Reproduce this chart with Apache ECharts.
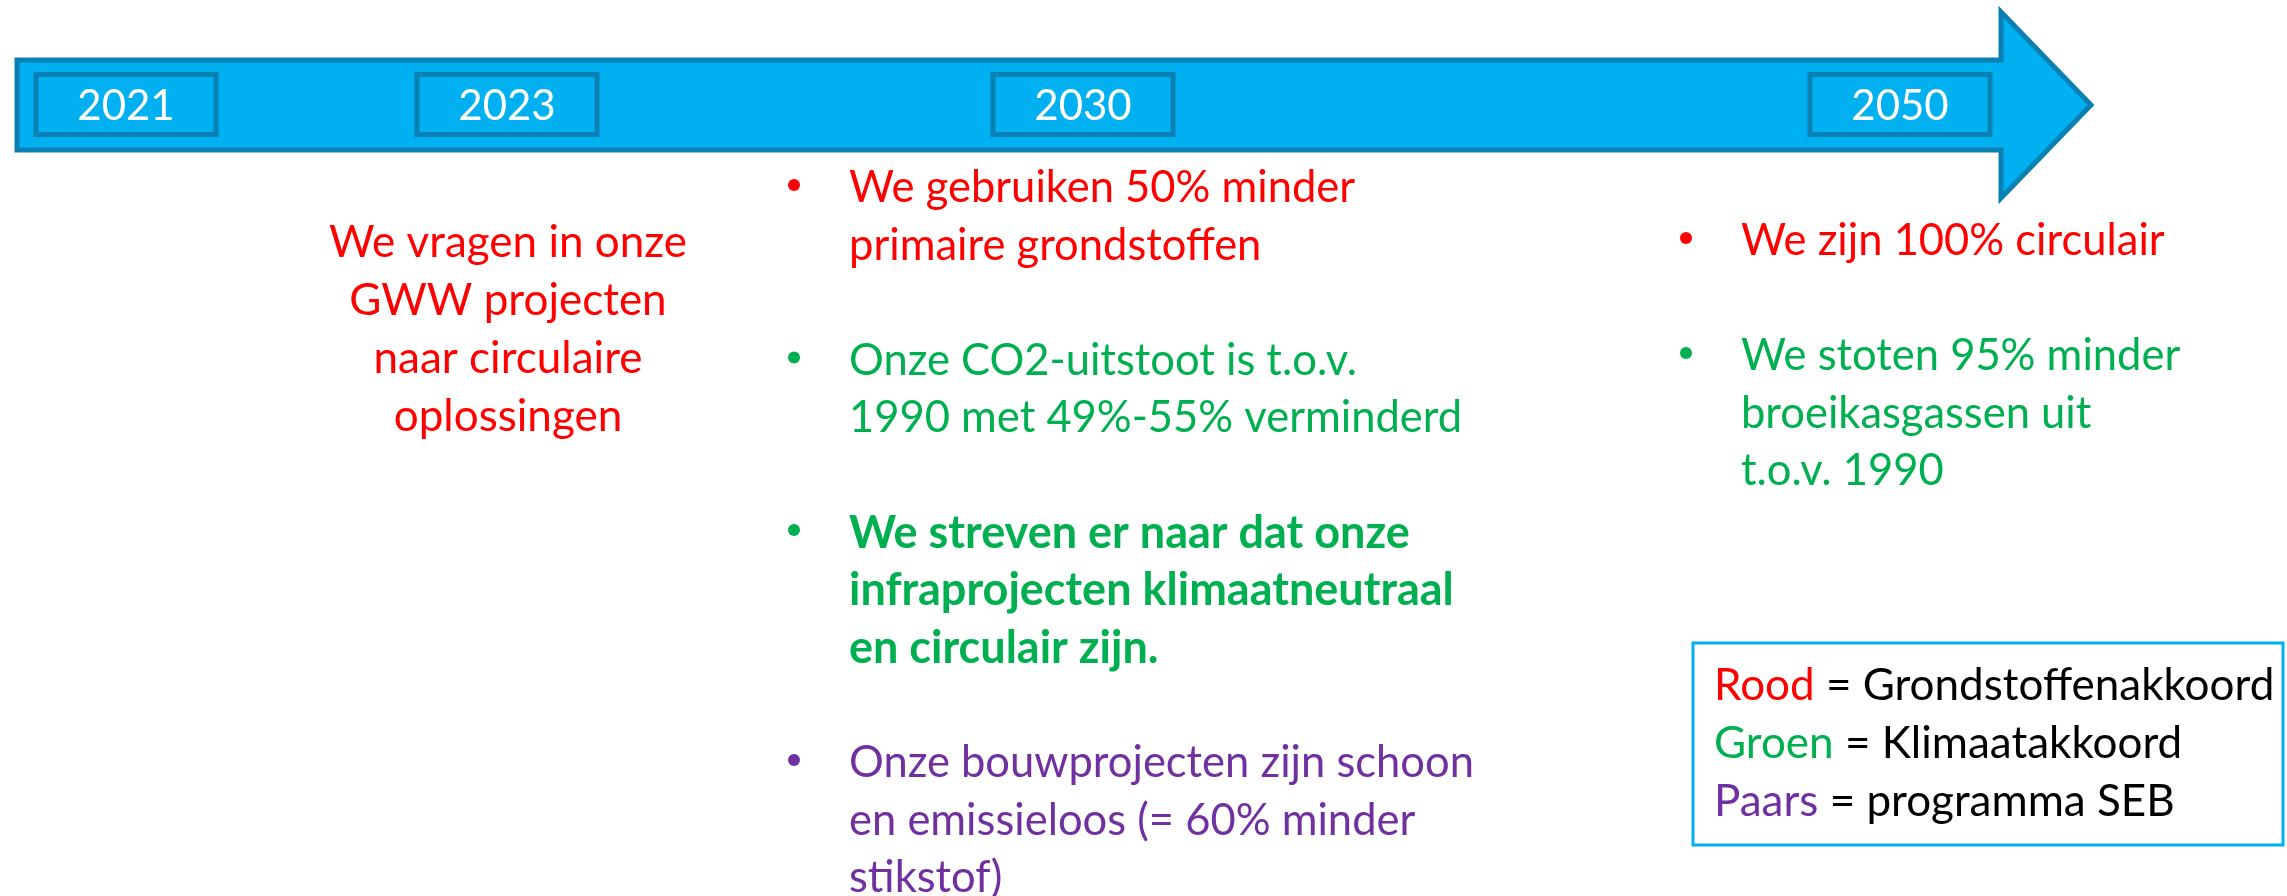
<!DOCTYPE html>
<html>
<head>
<meta charset="utf-8">
<title>Tijdlijn</title>
<script src="https://cdn.jsdelivr.net/npm/echarts@6/dist/echarts.min.js"></script>
<style>
  html, body { margin: 0; padding: 0; background: #fff; }
  #chart { width: 2287px; height: 896px; }
</style>
</head>
<body>
<div id="chart"></div>
<script>
// --- data ---
var years = ['2021', '2023', '2030', '2050'];

var note2023 = ['We vragen in onze', 'GWW projecten', 'naar circulaire', 'oplossingen'];

var goals2030 = [
    ['We gebruiken 50% minder', 'primaire grondstoffen'],
    ['Onze CO2-uitstoot is t.o.v.', '1990 met 49%-55% verminderd'],
    ['We streven er naar dat onze', 'infraprojecten klimaatneutraal', 'en circulair zijn.'],
    ['Onze bouwprojecten zijn schoon', 'en emissieloos (= 60% minder', 'stikstof)']
];
var goals2030Accord = ['Rood', 'Groen', 'Groen', 'Paars'];
var goals2030Bold = [false, false, true, false];

var goals2050 = [
    ['We zijn 100% circulair'],
    ['We stoten 95% minder', 'broeikasgassen uit', 't.o.v. 1990']
];
var goals2050Accord = ['Rood', 'Groen'];

var legendKeys = ['Rood', 'Groen', 'Paars'];
var legendLabels = ['Grondstoffenakkoord', 'Klimaatakkoord', 'programma SEB'];

// --- layout / styles ---
var FONT = 'Lato, "Open Sans", sans-serif';
var SIZE = '43.5px ';
var accordColor = { Rood: '#ff0000', Groen: '#00b050', Paars: '#7030a0' };
var arrowFill = '#00b0f0';
var arrowEdge = '#0b80b4';
var yearBoxX = [36, 417, 993, 1810];   // left edges of the year boxes
var lineH = 57.5;

var myChart = echarts.init(document.getElementById('chart'));
var g = [];

// arrow
g.push({
    type: 'polygon',
    shape: {
        points: [[17, 60], [2001, 60], [2001, 12], [2091, 105], [2001, 198], [2001, 150], [17, 150]]
    },
    style: { fill: arrowFill, stroke: arrowEdge, lineWidth: 5, lineJoin: 'miter' }
});

// year boxes
for (var i = 0; i < years.length; i++) {
    g.push({
        type: 'rect',
        shape: { x: yearBoxX[i], y: 74.5, width: 180, height: 60 },
        style: { fill: arrowFill, stroke: arrowEdge, lineWidth: 5 }
    });
    g.push({
        type: 'text',
        x: yearBoxX[i] + 90, y: 106,
        style: {
            text: years[i], fill: '#fff', font: '42px ' + FONT,
            align: 'center', verticalAlign: 'middle'
        }
    });
}

// 2023 note, centred
for (var j = 0; j < note2023.length; j++) {
    g.push({
        type: 'text',
        x: 508, y: 243 + j * 58,
        style: {
            text: note2023[j], fill: accordColor.Rood, font: '44px ' + FONT,
            align: 'center', verticalAlign: 'middle'
        }
    });
}

// bullet column helper
function bulletColumn(goals, accords, bolds, bulletX, textX, startY) {
    var y = startY;
    for (var p = 0; p < goals.length; p++) {
        var col = accordColor[accords[p]];
        g.push({
            type: 'circle',
            shape: { cx: bulletX, cy: y - 3, r: 6 },
            style: { fill: col }
        });
        for (var k = 0; k < goals[p].length; k++) {
            g.push({
                type: 'text',
                x: textX, y: y + k * lineH,
                style: {
                    text: goals[p][k], fill: col,
                    font: (bolds && bolds[p] ? 'bold 45px ' : SIZE) + FONT,
                    align: 'left', verticalAlign: 'middle'
                }
            });
        }
        y += (goals[p].length + 1) * lineH;
    }
}

bulletColumn(goals2030, goals2030Accord, goals2030Bold, 794, 849, 188);
bulletColumn(goals2050, goals2050Accord, null, 1686, 1741, 241);

// legend box
g.push({
    type: 'rect',
    shape: { x: 1693, y: 643, width: 590, height: 202 },
    style: { fill: '#fff', stroke: arrowFill, lineWidth: 3 }
});
var rich = {};
for (var r = 0; r < legendKeys.length; r++) {
    rich['k' + r] = { fill: accordColor[legendKeys[r]], font: '44px ' + FONT };
}
for (var m = 0; m < legendKeys.length; m++) {
    g.push({
        type: 'text',
        x: 1714, y: 686 + m * 58,
        style: {
            text: '{k' + m + '|' + legendKeys[m] + '} = ' + legendLabels[m],
            rich: rich, fill: '#000', font: '44px ' + FONT,
            align: 'left', verticalAlign: 'middle'
        }
    });
}

var option = {
    backgroundColor: '#fff',
    animation: false,
    graphic: { elements: g }
};

myChart.setOption(option);
window.onresize = myChart.resize;
</script>
</body>
</html>
